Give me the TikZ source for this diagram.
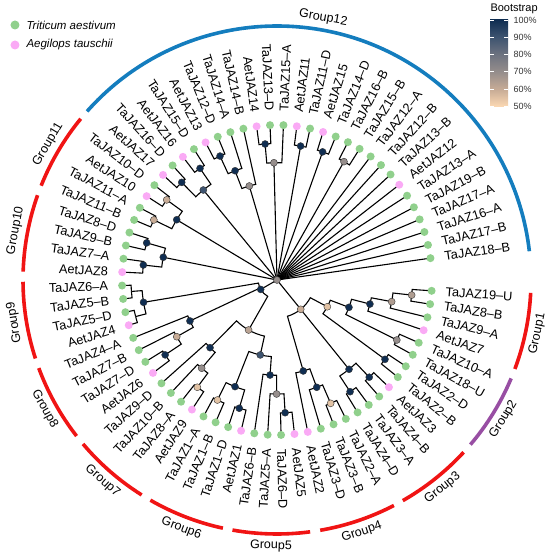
\documentclass[tikz,border=0pt]{standalone}
\usepackage{fontspec}
\setmainfont{Liberation Sans}
\usetikzlibrary{calc,backgrounds}
% species and group colours
\definecolor{tagreen}{RGB}{144,208,140}
\definecolor{aepink}{RGB}{250,170,245}
\definecolor{grpred}{RGB}{240,20,20}
\definecolor{grppurple}{RGB}{152,78,163}
\definecolor{grpblue}{RGB}{20,125,190}
% bootstrap scale
\definecolor{b100}{RGB}{16,46,82}
\definecolor{b90}{RGB}{62,84,112}
\definecolor{b80}{RGB}{110,115,128}
\definecolor{b70}{RGB}{150,142,140}
\definecolor{b60}{RGB}{200,172,150}
\definecolor{b50}{RGB}{253,218,180}
\colorlet{b65}{b70!50!b60}
\colorlet{b62}{b70!25!b60}
\colorlet{b55}{b60!50!b50}
\pgfdeclareverticalshading{bootbar}{100bp}{color(0bp)=(b50); color(25bp)=(b50); color(35bp)=(b60); color(45bp)=(b70); color(55bp)=(b80); color(65bp)=(b90); color(75bp)=(b100); color(100bp)=(b100)}
\begin{document}
\begin{tikzpicture}[x=1pt,y=1pt]

      \tikzset{tadot/.style={circle, inner sep=0pt, minimum size=8pt, fill=tagreen},
               aedot/.style={circle, inner sep=0pt, minimum size=8pt, fill=aepink},
               bs/.style={circle, draw=black!80, line width=0.4pt, fill=#1, inner sep=0pt, minimum size=7pt},
               branch/.style={line width=1.1pt, black},
               leaflab/.style={inner sep=2pt, font=\fontsize{12.8}{14}\selectfont},
               grpline/.style={line width=3.6pt},
               grplab/.style={font=\fontsize{12.5}{14}\selectfont}}
      \useasboundingbox (-277,-276) rectangle (273,280);
% Leaves
	\foreach \nm/\sp [count=\i] in {TaJAZ19–U/tadot, TaJAZ8–B/tadot, TaJAZ9–A/tadot, AetJAZ7/aedot,
	      TaJAZ10–A/tadot, TaJAZ18–U/tadot, TaJAZ2–D/tadot, TaJAZ2–B/tadot, AetJAZ3/aedot,
	      TaJAZ4–B/tadot, TaJAZ3–A/tadot, TaJAZ4–D/tadot, TaJAZ2–A/tadot, TaJAZ3–B/tadot,
	      TaJAZ3–D/tadot, AetJAZ2/aedot, AetJAZ5/aedot, TaJAZ6–D/tadot, TaJAZ5–A/tadot,
	      TaJAZ6–B/tadot, AetJAZ1/aedot, TaJAZ1–D/tadot, TaJAZ1–B/tadot, TaJAZ1–A/tadot,
	      AetJAZ9/aedot, TaJAZ8–A/tadot, TaJAZ10–B/tadot, TaJAZ9–D/tadot, AetJAZ6/aedot,
	      TaJAZ7–D/tadot, TaJAZ7–B/tadot, TaJAZ4–A/tadot, AetJAZ4/aedot, TaJAZ5–D/tadot,
	      TaJAZ5–B/tadot, TaJAZ6–A/tadot, AetJAZ8/aedot, TaJAZ7–A/tadot, TaJAZ9–B/tadot,
	      TaJAZ8–D/tadot, TaJAZ11–B/tadot, TaJAZ11–A/tadot, AetJAZ10/aedot, TaJAZ10–D/tadot,
	      AetJAZ17/aedot, TaJAZ16–D/tadot, AetJAZ16/aedot, TaJAZ15–D/tadot, AetJAZ13/aedot,
	      TaJAZ12–D/tadot, TaJAZ14–A/tadot, TaJAZ14–B/tadot, AetJAZ14/aedot, TaJAZ13–D/tadot,
	      TaJAZ15–A/tadot, AetJAZ11/aedot, TaJAZ11–D/tadot, AetJAZ15/aedot, TaJAZ14–D/tadot,
	      TaJAZ16–B/tadot, TaJAZ15–B/tadot, TaJAZ12–A/tadot, TaJAZ12–B/tadot, TaJAZ13–B/tadot,
	      AetJAZ12/aedot, TaJAZ13–A/tadot, TaJAZ19–B/tadot, TaJAZ17–A/tadot, TaJAZ16–A/tadot,
	      TaJAZ17–B/tadot, TaJAZ18–B/tadot}{
	    \pgfmathsetmacro\ang{4+(\i-1)*4.97}
	    \pgfmathtruncatemacro\flip{(\ang>90)&&(\ang<270)}
	    \node[\sp] (L\i) at (-\ang:155) {};
	    \ifnum\flip=1
	      \node[leaflab, anchor=east, rotate=180-\ang] (T\i) at (-\ang:167) {\nm};
	    \else
	      \node[leaflab, anchor=west, rotate=-\ang] (T\i) at (-\ang:167) {\nm};
	    \fi
	}
% Inner nodes (angle clockwise / radius / bootstrap)
	\node[bs=b70] (R) at (0,0) {};
	\foreach \nm/\ang/\rad/\col in {N6/6.4/135.5/b65, N10/10.7/116.7/b65, N14/14.5/96/b100,
	      N20/20.8/77/b100, N26/26.6/134/b70, N28/28/57/b55, N36/36.3/134/b100, T51/51/37.7/b60,
	      N46/46.5/134/b100, N56/56.8/133.5/b100, N51/51.1/114.7/b100, N66/66.5/134.5/b55,
	      N69/69.7/114.4/b100, N73/73.9/94.7/b100, N86/86.5/133/b100, N90/90.2/114/b70,
	      N94/94.2/95.3/b100, N103/102.6/76.8/b90, N106/106.4/133.7/b100, N116/116.4/134/b55,
	      N111/111.5/114.6/b100, N126/126.6/133.6/b55, N130/130.5/116/b70, N134/134.7/95.2/b100,
	      G118/119.6/57.5/b62, N146/146.2/134.6/b100, N150/150.5/115.2/b60, N154/154.8/96.2/b100,
	      N170/170.5/135.3/b100, D151/150/18.8/b100, N186/186.4/134.5/b100, N195/195.9/135.5/b100,
	      N191/191.3/116/b100, N206/206/137/b60, N216/216/136.3/b60, N211/211/117/b100,
	      N225/225.7/136.4/b100, N235/235.4/135.6/b100, S230/230.7/116.3/b90, N245/245.3/136.4/b100,
	      N249/249/117/b100, G253/253.6/98/b70, N265/265/136.5/b100, G268/268.5/117.3/b70,
	      D280/280/136/b100, D289/289.6/136/b100, G299/299.5/136/b70}
	    \node[bs=\col] (\nm) at (-\ang:\rad) {};
	\coordinate (P175) at (-175.5:146);
	\coordinate (P165) at (-165.5:146);
% Branches
	\begin{pgfonlayer}{background}
	\foreach \ch in {T51, D151, N191, N211, S230, G253, G268, D280, D289, G299,
	      L62, L63, L64, L65, L66, L67, L68, L69, L70, L71}
	    \draw[branch] (R.center) -- (\ch.center);
	\foreach \pa/\ch in {T51/N28, T51/N51, T51/N73, N28/N20, N28/N36, N20/N14, N20/N26,
	      N14/N10, N14/L4, N10/N6, N10/L3, N6/L1, N6/L2, N26/L5, N26/L6, N36/L7, N36/L8,
	      N51/N46, N51/N56, N46/L9, N46/L10, N56/L11, N56/L12,
	      N73/N69, N73/L16, N69/N66, N69/L15, N66/L13, N66/L14,
	      D151/N170, D151/N154, D151/G118, N170/P175, N170/P165,
	      P175/L36, P175/L35, P165/L34, P165/L33,
	      G118/N134, G118/N103, N103/N94, N103/N111,
	      N94/N90, N94/L20, N90/N86, N90/L19, N86/L17, N86/L18,
	      N111/N116, N111/N106, N116/L24, N116/L23, N106/L22, N106/L21,
	      N134/N130, N134/L28, N130/N126, N130/L27, N126/L26, N126/L25,
	      N154/L32, N154/N150, N150/L31, N150/N146, N146/L30, N146/L29,
	      N191/N186, N191/N195, N186/L37, N186/L38, N195/L39, N195/L40,
	      N211/N206, N211/N216, N206/L41, N206/L42, N216/L43, N216/L44,
	      S230/N225, S230/N235, N225/L45, N225/L46, N235/L47, N235/L48,
	      G253/N249, G253/L52, N249/N245, N249/L51, N245/L49, N245/L50,
	      G268/N265, G268/L55, N265/L53, N265/L54,
	      D280/L56, D280/L57, D289/L58, D289/L59, G299/L60, G299/L61}
	    \draw[branch] let \p1=(\pa.center), \p2=(\ch.center), \n1={atan2(\y1,\x1)},
	        \n2={atan2(\y2,\x2)}, \n3={veclen(\x1,\y1)}, \n4={mod(\n2-\n1+540,360)-180}
	        in (\p1) arc[start angle=\n1, delta angle=\n4, radius=\n3] -- (\p2);
	\end{pgfonlayer}
% Groups
	\foreach \a/\b/\c in {2.9/20.5/grpred, 22.8/40.4/grppurple, 42.7/60.3/grpred, 62.6/80.2/grpred,
	      82.5/100.1/grpred, 102.3/119.9/grpred, 122.2/139.8/grpred, 142.1/159.7/grpred,
	      162/179.6/grpred, 181.9/199.5/grpred, 201.8/219.4/grpred, 221.6/353.5/grpblue}
	    \draw[grpline, \c] (-\a:254) arc[start angle=-\a, end angle=-\b, radius=254];
	\foreach \k/\m/\rot in {1/11.7/78.3, 2/31.6/58.4, 3/51.5/38.5, 4/71.4/18.6, 5/91.3/-1.3,
	      6/111.1/-21.1, 7/131/-41, 8/150.9/-60.9, 9/170.8/99.2, 10/190.7/79.3,
	      11/210.6/59.4, 12/280/-10}
	    \node[grplab, rotate=\rot] (G\k) at (-\m:266) {Group\k};
% Legend
	\node[tadot, minimum size=9pt] (k1) at (-262,255) {};
	\node[anchor=west, font=\fontsize{11.5}{13}\selectfont\itshape] (k1t) at (-254,255) {Triticum aestivum};
	\node[aedot, minimum size=9pt] (k2) at (-262,235) {};
	\node[anchor=west, font=\fontsize{11.5}{13}\selectfont\itshape] (k2t) at (-254,235) {Aegilops tauschii};
% Bootstrap bar
	\node[anchor=west, font=\fontsize{11}{13}\selectfont] (bt) at (210,271) {Bootstrap};
	\shade[shading=bootbar] (213,173) rectangle (231,260);
	\foreach \v/\y in {100/260, 90/243, 80/226, 70/209, 60/191, 50/174}{
	    \draw[white, line width=0.6pt] (213,\y) -- (216.6,\y) (227.4,\y) -- (231,\y);
	    \node[anchor=west, font=\fontsize{9}{10}\selectfont, text=black!80] (bl\v) at (233,\y) {\v\%};
	}

\end{tikzpicture}
\end{document}
